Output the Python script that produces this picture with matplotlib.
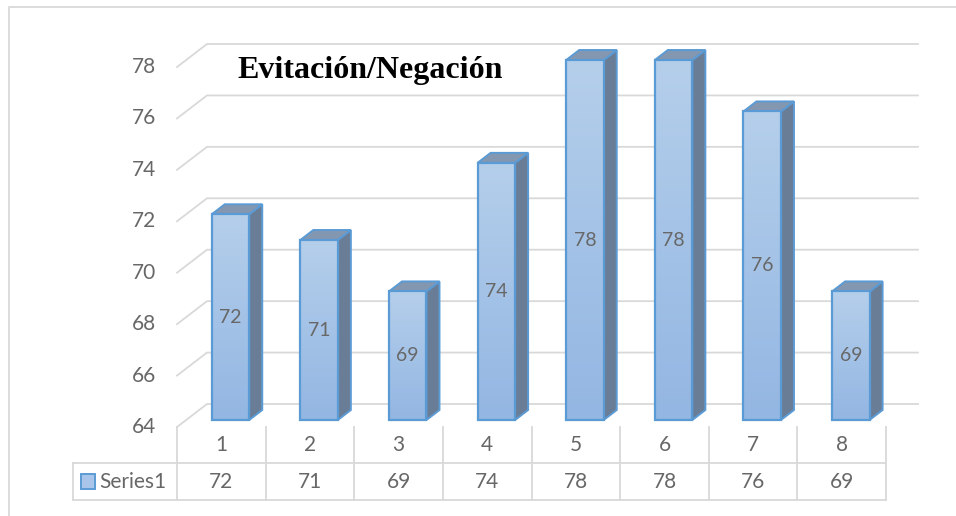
import numpy as np
import matplotlib
matplotlib.use('Agg')
import matplotlib.pyplot as plt
from matplotlib.patches import Polygon, Rectangle

# data
categories = ['1', '2', '3', '4', '5', '6', '7', '8']
values = [72, 71, 69, 74, 78, 78, 76, 69]
series_name = 'Series1'
title = 'Evitación/Negación'
y_ticks = [64, 66, 68, 70, 72, 74, 76, 78]

# layout (pixels of the 956x516 picture)
W, H = 956, 516
PX_CAT = 88.625          # width of one category
PX_VAL = 25.714          # pixels per value unit
X_LEFT_PX = 177          # left edge of category 1
Y_BASE_PX = 427          # pixel of the axis minimum on the front plane
YMIN = y_ticks[0]


def px_x(p):
    return 0.5 + (p - X_LEFT_PX) / PX_CAT


def px_y(p):
    return YMIN + (Y_BASE_PX - p) / PX_VAL


# oblique depth vector (full depth of the floor)
DX = 30 / PX_CAT
DY = 23 / PX_VAL
F0, F1 = 7 / 23, 17 / 23      # bar front / back depth fractions
BAR_W = 37.5 / PX_CAT

GRID = '#d9d9d9'
TXT = '#676767'
EDGE = '#5b9bd5'
SIDE = '#6a7d96'
TOP = '#8497b0'
FONT = 'Lato'
FS = 15

fig = plt.figure(figsize=(W / 100, H / 100), dpi=100)
ax = fig.add_axes([0, 0, 1, 1])
ax.set_xlim(px_x(0), px_x(W))
ax.set_ylim(px_y(H), px_y(0))
ax.axis('off')

# chart area border (only top and left are visible)
ax.plot([px_x(9), px_x(9), px_x(W + 5)], [px_y(H + 5), px_y(7), px_y(7)],
        color=GRID, lw=1.3, solid_capstyle='butt')

# gridlines: front-left diagonal then along the back wall
x_back_right = px_x(918)
for v in y_ticks:
    ax.plot([0.5, 0.5 + DX, x_back_right], [v, v + DY, v + DY],
            color=GRID, lw=1.3, zorder=1)
    ax.text(px_x(156), v, str(v), ha='right', va='center',
            fontsize=FS, color=TXT, family=FONT)

# gradient for the front faces
grad = np.linspace(1, 0, 256).reshape(-1, 1)
cmap = matplotlib.colors.LinearSegmentedColormap.from_list(
    'face', ['#93b6e2', '#b5cfeb'])

ddx = (F1 - F0) * DX
ddy = (F1 - F0) * DY
for i, v in enumerate(values):
    c = i + 1
    xl = c - BAR_W / 2 + F0 * DX
    xr = c + BAR_W / 2 + F0 * DX
    yb = YMIN + F0 * DY
    yt = v + F0 * DY
    side = Polygon([(xr, yb), (xr + ddx, yb + ddy), (xr + ddx, yt + ddy), (xr, yt)],
                   closed=True, fc=SIDE, ec=EDGE, lw=1.4, zorder=3)
    top = Polygon([(xl, yt), (xr, yt), (xr + ddx, yt + ddy), (xl + ddx, yt + ddy)],
                  closed=True, fc=TOP, ec=EDGE, lw=1.4, zorder=3)
    ax.add_patch(side)
    ax.add_patch(top)
    im = ax.imshow(grad, cmap=cmap, extent=[xl, xr, yb, yt], aspect='auto',
                   zorder=4, interpolation='bilinear')
    front = Rectangle((xl, yb), xr - xl, yt - yb, fc='none', ec=EDGE,
                      lw=1.6, zorder=5)
    ax.add_patch(front)
    im.set_clip_path(front)
    ax.text((xl + xr) / 2, (yb + yt) / 2, str(v), ha='center', va='center',
            fontsize=FS - 1, color=TXT, family=FONT, zorder=6)

ax.set_xlim(px_x(0), px_x(W))
ax.set_ylim(px_y(H), px_y(0))

# title
ax.text(px_x(237), px_y(78), title, ha='left', va='baseline', fontsize=23,
        fontweight='bold', family='Liberation Serif', color='black', zorder=7)

# data table
row1_bot = px_y(463)
row2_bot = px_y(500)
x_tab_left = px_x(73)
x_tab_right = len(categories) + 0.5
ax.plot([x_tab_left, x_tab_right], [row1_bot, row1_bot], color=GRID, lw=1.3)
ax.plot([x_tab_left, x_tab_right], [row2_bot, row2_bot], color=GRID, lw=1.3)
ax.plot([x_tab_left, x_tab_left], [row1_bot, row2_bot], color=GRID, lw=1.3)
for k in range(len(categories) + 1):
    ax.plot([k + 0.5, k + 0.5], [YMIN, row2_bot], color=GRID, lw=1.3)
for i, (cat, v) in enumerate(zip(categories, values)):
    ax.text(i + 1, (YMIN + row1_bot) / 2, cat, ha='center', va='center',
            fontsize=FS, color=TXT, family=FONT)
    ax.text(i + 1, (row1_bot + row2_bot) / 2, str(v), ha='center', va='center',
            fontsize=FS, color=TXT, family=FONT)

# legend key in the table
ax.add_patch(Rectangle((px_x(81), px_y(489)), px_x(95) - px_x(81),
                       px_y(474) - px_y(489), fc='#a9c6ea', ec=EDGE, lw=1.4))
ax.text(px_x(99), (row1_bot + row2_bot) / 2, series_name, ha='left', va='center',
        fontsize=FS, color=TXT, family=FONT)

fig.savefig('out.png', dpi=100)
